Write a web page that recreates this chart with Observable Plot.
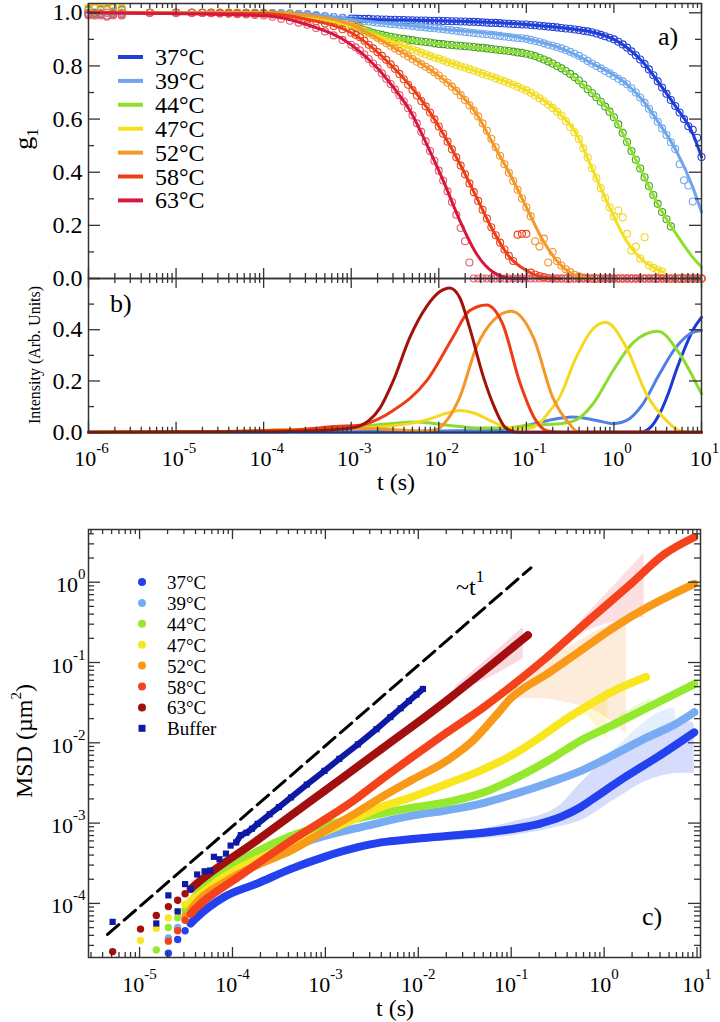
<!DOCTYPE html>
<html><head><meta charset="utf-8">
<script src="https://cdn.jsdelivr.net/npm/d3@7"></script>
<script src="https://cdn.jsdelivr.net/npm/@observablehq/plot@0.6"></script>
<style>
html,body{margin:0;padding:0;background:#fff;}
#wrap{position:relative;width:720px;height:1022px;overflow:hidden;background:#fff;}
#wrap svg{position:absolute;left:0;}
</style></head><body><div id="wrap"></div>
<script>
// ================= DATA =================
const temps = ["37°C","39°C","44°C","47°C","52°C","58°C","63°C"];

// ---- panel a: g1 vs lag time (log10 t) ----
const lagLog = [-6,-5.93,-5.86,-5.79,-5.72,-5.62,-5.3,-5,-4.82,-4.7,-4.6,-4.5,-4.4,-4.3,-4.2,-4.1,-4,-3.9,-3.8,-3.7,-3.6,-3.5,-3.4,-3.3,-3.2,-3.1,
 -3,-2.95,-2.9,-2.85,-2.8,-2.75,-2.7,-2.65,-2.6,-2.55,-2.5,-2.45,-2.4,-2.35,-2.3,-2.25,-2.2,-2.15,-2.1,-2.05,-2,
 -1.95,-1.9,-1.85,-1.8,-1.75,-1.7,-1.65,-1.6,-1.55,-1.5,-1.45,-1.4,-1.35,-1.3,-1.25,-1.2,-1.15,-1.1,-1.05,-1,
 -0.95,-0.9,-0.85,-0.8,-0.75,-0.7,-0.65,-0.6,-0.55,-0.5,-0.45,-0.4,-0.35,-0.3,-0.25,-0.2,-0.15,-0.1,-0.05,0,
 0.05,0.1,0.15,0.2,0.25,0.3,0.35,0.4,0.45,0.5,0.55,0.6,0.65,0.7,0.75,0.8,0.85,0.9,0.95,1];

const g1_37 = [1,1,1,1,1,1, 1,1,1,1,1,1,1,1,1,1,1, 0.999,0.998,0.997,0.995,0.993,0.99,0.987,0.984,0.981,
 0.978,0.978,0.977,0.977,0.977,0.976,0.976,0.975,0.975,0.974,0.974,0.973,0.973,0.972,0.972,0.971,0.971,0.971,0.97,0.97,0.97,
 0.969,0.969,0.968,0.968,0.967,0.967,0.966,0.966,0.965,0.964,0.963,0.962,0.962,0.961,0.96,0.959,0.958,0.957,0.956,0.956,
 0.954,0.953,0.951,0.95,0.948,0.947,0.945,0.943,0.941,0.94,0.937,0.935,0.932,0.93,0.927,0.922,0.917,0.912,0.906,0.9,
 0.891,0.881,0.869,0.855,0.84,0.824,0.807,0.787,0.765,0.742,0.719,0.695,0.672,0.649,0.625,0.6,0.573,0.56,0.53,0.457];
const g1_39 = [1,1,1,1,1,1, 1,1,1,1,1,1,1,1,1,1,1, 0.999,0.998,0.997,0.996,0.995,0.992,0.988,0.984,0.98,
 0.975,0.972,0.97,0.968,0.967,0.965,0.963,0.962,0.96,0.958,0.957,0.955,0.953,0.952,0.95,0.948,0.947,0.945,0.943,0.942,0.94,
 0.938,0.936,0.934,0.932,0.93,0.928,0.926,0.924,0.922,0.921,0.919,0.917,0.915,0.913,0.911,0.909,0.907,0.905,0.904,0.902,
 0.898,0.894,0.89,0.885,0.88,0.876,0.871,0.866,0.86,0.853,0.846,0.838,0.829,0.819,0.809,0.8,0.791,0.781,0.772,0.762,
 0.752,0.742,0.731,0.716,0.7,0.681,0.661,0.639,0.615,0.59,0.565,0.54,0.513,0.487,0.43,0.37,0.35,0.29,0,0];
const g1_44 = [1.01,1,1.01,1.015,1.005,1.01, 1,1,1,1,1,1,1,0.999,0.999,0.998,0.998, 0.997,0.995,0.993,0.99,0.987,0.982,0.976,0.969,0.962,
 0.953,0.946,0.94,0.935,0.93,0.925,0.921,0.917,0.913,0.91,0.907,0.904,0.902,0.899,0.897,0.894,0.892,0.89,0.888,0.885,0.883,
 0.882,0.88,0.879,0.877,0.876,0.874,0.873,0.871,0.869,0.868,0.866,0.864,0.862,0.86,0.858,0.856,0.854,0.851,0.849,0.846,
 0.842,0.837,0.831,0.824,0.817,0.809,0.8,0.791,0.781,0.77,0.758,0.745,0.73,0.712,0.698,0.682,0.665,0.647,0.628,0.607,
 0.58,0.548,0.514,0.48,0.447,0.414,0.381,0.348,0.314,0.281,0.25,0.223,0.196,0,0,0,0,0,0,0];
const g1_47 = [1.02,1.015,1.02,1.02,1.015,1.02, 1,1,1,1,1,1,1,0.999,0.999,0.999,0.998, 0.997,0.995,0.993,0.99,0.987,0.982,0.975,0.967,0.959,
 0.95,0.943,0.935,0.928,0.922,0.916,0.91,0.904,0.898,0.893,0.888,0.881,0.875,0.868,0.862,0.856,0.85,0.844,0.838,0.832,0.827,
 0.821,0.815,0.81,0.804,0.799,0.794,0.788,0.783,0.777,0.771,0.765,0.76,0.754,0.748,0.742,0.736,0.729,0.722,0.715,0.708,
 0.699,0.689,0.678,0.667,0.655,0.642,0.628,0.613,0.593,0.57,0.55,0.525,0.49,0.455,0.415,0.378,0.34,0.303,0.268,0.233,
 0.256,0.23,0.168,0.105,0.12,0.075,0.155,0.05,0.04,0.032,0.026,0,0,0,0,0,0,0,0,0];
const g1_52 = [1.015,1.02,1.015,1.01,1.02,1.015, 1,1,1,1,1,1,1,0.999,0.999,0.998,0.998, 0.997,0.996,0.994,0.992,0.99,0.985,0.978,0.972,0.964,
 0.955,0.951,0.946,0.936,0.926,0.916,0.906,0.896,0.886,0.876,0.866,0.856,0.846,0.836,0.826,0.816,0.806,0.797,0.787,0.776,0.764,
 0.751,0.737,0.722,0.706,0.69,0.672,0.652,0.632,0.61,0.584,0.556,0.526,0.494,0.462,0.43,0.398,0.367,0.334,0.301,0.268,
 0.234,0.14,0.12,0.15,0.06,0.1,0.066,0.049,0.035,0.024,0.014,0.008,0.004,0.001,0,0,0,0,0,0,
 0,0,0,0,0,0,0,0,0,0,0,0,0,0,0,0,0,0,0,0];
const g1_58 = [0.995,0.99,0.995,0.99,0.995,0.99, 1,1,1,1,1,0.999,0.999,0.998,0.998,0.997,0.997, 0.994,0.99,0.986,0.981,0.975,0.968,0.96,0.95,0.938,
 0.925,0.917,0.908,0.895,0.88,0.866,0.852,0.838,0.823,0.806,0.789,0.77,0.75,0.729,0.709,0.689,0.668,0.648,0.625,0.599,0.572,
 0.545,0.515,0.486,0.456,0.425,0.392,0.358,0.325,0.292,0.259,0.226,0.193,0.163,0.135,0.109,0.085,0.066,0.165,0.168,0.168,
 0.022,0.015,0.009,0.005,0.002,0,0,0,0,0,0,0,0,0,0,0,0,0,0,0,
 0,0,0,0,0,0,0,0,0,0,0,0,0,0,0,0,0,0,0,0];
const g1_63 = [0.99,0.995,0.99,0.985,0.99,0.995, 1,1,1,0.999,0.998,0.997,0.996,0.995,0.994,0.992,0.99, 0.985,0.978,0.97,0.963,0.955,0.943,0.93,0.915,0.898,
 0.88,0.87,0.858,0.843,0.826,0.809,0.792,0.772,0.752,0.732,0.711,0.69,0.666,0.641,0.614,0.584,0.552,0.516,0.48,0.443,0.406,
 0.369,0.328,0.288,0.24,0.19,0.14,0.06,0,0,0,0,0,0,0,0,0,0,0,0,0,
 0,0,0,0,0,0,0,0,0,0,0,0,0,0,0,0,0,0,0,0,
 0,0,0,0,0,0,0,0,0,0,0,0,0,0,0,0,0,0,0,0];

// fitted curves (log10 t, g1)
const fit37 = [[-6,1],[-4,1],[-3.5,0.993],[-3,0.978],[-2,0.97],[-1,0.956],[-0.5,0.94],[-0.24,0.927],[0,0.9],[0.14,0.871],[0.33,0.815],[0.52,0.733],[0.71,0.645],[0.9,0.545],[1,0.457]];
const fit39 = [[-6,1],[-4,1],[-3.5,0.995],[-3,0.975],[-2,0.94],[-1,0.902],[-0.62,0.868],[-0.24,0.808],[0.14,0.733],[0.33,0.67],[0.52,0.582],[0.71,0.482],[0.9,0.344],[1,0.25]];
const fit44 = [[-6,1],[-4,1],[-3.5,0.987],[-3,0.953],[-2.52,0.908],[-2,0.883],[-1.38,0.861],[-1,0.846],[-0.62,0.795],[-0.24,0.695],[0,0.607],[0.14,0.52],[0.33,0.394],[0.52,0.268],[0.71,0.168],[0.9,0.08],[1,0.043]];
const fit47 = [[-6,1],[-4,0.998],[-3.5,0.987],[-3,0.95],[-2.52,0.89],[-2,0.827],[-1.38,0.758],[-1,0.708],[-0.62,0.62],[-0.43,0.545],[-0.24,0.407],[-0.05,0.268],[0.14,0.143],[0.33,0.068],[0.56,0.025]];
const fit52 = [[-6,1],[-4,0.998],[-3.5,0.99],[-3,0.955],[-2.52,0.87],[-2.14,0.795],[-1.76,0.695],[-1.57,0.62],[-1.38,0.507],[-1.19,0.394],[-1,0.268],[-0.81,0.143],[-0.62,0.055],[-0.43,0.011],[-0.2,0]];
const fit58 = [[-6,1],[-4,0.997],[-3.5,0.975],[-3,0.925],[-2.52,0.795],[-2.14,0.645],[-1.95,0.545],[-1.76,0.432],[-1.57,0.306],[-1.38,0.18],[-1.19,0.08],[-1,0.03],[-0.81,0.005],[-0.6,0]];
const fit63 = [[-6,1],[-4,0.99],[-3.5,0.955],[-3,0.88],[-2.71,0.795],[-2.52,0.72],[-2.33,0.632],[-2.14,0.507],[-1.95,0.369],[-1.76,0.218],[-1.57,0.093],[-1.38,0.024],[-1.15,0],[-1,0]];

// ---- panel b: intensity distributions (log10 t, intensity) ----
const int37 = [[-6,0],[-1,0],[0,0],[0.3,0],[0.42,0.02],[0.52,0.071],[0.62,0.15],[0.71,0.24],[0.8,0.32],[0.9,0.397],[1,0.448]];
const int39 = [[-6,0],[-3,0.002],[-2,0.005],[-1.5,0.006],[-1.2,0.012],[-1,0.026],[-0.75,0.046],[-0.47,0.059],[-0.2,0.046],[0,0.033],[0.14,0.045],[0.33,0.11],[0.52,0.227],[0.71,0.332],[0.9,0.39],[1,0.397]];
const int44 = [[-6,0],[-4.5,0.002],[-4,0.006],[-3.5,0.012],[-3,0.02],[-2.6,0.032],[-2.25,0.04],[-1.9,0.027],[-1.5,0.016],[-1.2,0.018],[-1,0.026],[-0.62,0.033],[-0.43,0.048],[-0.24,0.11],[-0.01,0.24],[0.22,0.35],[0.5,0.394],[0.75,0.306],[1,0.15]];
const int47 = [[-6,0],[-4.5,0.003],[-4,0.008],[-3.5,0.012],[-3,0.015],[-2.6,0.022],[-2.14,0.048],[-1.9,0.075],[-1.76,0.085],[-1.6,0.075],[-1.38,0.04],[-1.2,0.018],[-1,0.013],[-0.85,0.035],[-0.75,0.075],[-0.62,0.137],[-0.43,0.293],[-0.24,0.403],[-0.095,0.429],[0.14,0.332],[0.37,0.15],[0.6,0.045],[0.75,0.006],[0.9,0],[1,0]];
const int52 = [[-6,0],[-4.5,0.002],[-4,0.005],[-3.5,0.01],[-3,0.015],[-2.5,0.01],[-2.2,0.004],[-2.03,0.01],[-1.9,0.05],[-1.76,0.137],[-1.57,0.332],[-1.38,0.435],[-1.17,0.472],[-0.92,0.37],[-0.7,0.137],[-0.51,0.033],[-0.4,0],[1,0]];
const int58 = [[-6,0],[-4.5,0.002],[-4,0.006],[-3.5,0.012],[-3.2,0.022],[-2.9,0.027],[-2.7,0.05],[-2.52,0.085],[-2.14,0.2],[-1.84,0.37],[-1.65,0.474],[-1.456,0.497],[-1.27,0.422],[-1.08,0.2],[-0.89,0.045],[-0.77,0.006],[-0.6,0],[1,0]];
const int63 = [[-6,0],[-4,0.002],[-3.5,0.005],[-3.2,0.01],[-3,0.016],[-2.9,0.025],[-2.8,0.045],[-2.67,0.095],[-2.52,0.2],[-2.33,0.37],[-2.14,0.49],[-1.99,0.548],[-1.875,0.563],[-1.76,0.525],[-1.65,0.41],[-1.49,0.215],[-1.38,0.11],[-1.23,0.015],[-1.1,0],[1,0]];

// ---- panel c: MSD (log10 t, log10 MSD) ----
const msd37 = [[-4.69,-4.62],[-4.59,-4.45],[-4.51,-4.34],[-4.45,-4.25],[-4.38,-4.17],[-4.09,-3.92],[-3.73,-3.75],[-3.37,-3.57],[-3.01,-3.42],[-2.65,-3.3],[-2.4,-3.24],[-2.08,-3.2],[-1.69,-3.16],[-1.3,-3.12],[-0.97,-3.07],[-0.7,-3.01],[-0.46,-2.92],[-0.25,-2.8],[-0.11,-2.69],[0.25,-2.41],[0.61,-2.15],[0.97,-1.87]];
const msd39 = [[-4.69,-4.43],[-4.59,-4.3],[-4.51,-4.18],[-4.45,-4.12],[-4.41,-4.06],[-4.09,-3.71],[-3.73,-3.45],[-3.37,-3.3],[-3.01,-3.16],[-2.65,-3.06],[-2.4,-2.99],[-2.08,-2.91],[-1.69,-2.84],[-1.3,-2.75],[-0.97,-2.64],[-0.6,-2.5],[-0.25,-2.35],[0.1,-2.15],[0.47,-1.93],[0.75,-1.78],[0.97,-1.62]];
const msd44 = [[-4.82,-4.58],[-4.69,-4.3],[-4.59,-4.18],[-4.51,-4.08],[-4.45,-4],[-4.41,-3.93],[-4.09,-3.6],[-3.73,-3.35],[-3.37,-3.16],[-3.01,-3.03],[-2.65,-2.94],[-2.4,-2.88],[-2.08,-2.81],[-1.69,-2.74],[-1.3,-2.62],[-0.97,-2.45],[-0.6,-2.22],[-0.25,-1.97],[0.11,-1.77],[0.47,-1.56],[0.97,-1.27]];
const msd47 = [[-4.99,-4.46],[-4.82,-4.31],[-4.69,-4.18],[-4.59,-4.1],[-4.51,-4.01],[-4.45,-3.97],[-4.41,-3.94],[-4.09,-3.67],[-3.73,-3.45],[-3.37,-3.28],[-3.01,-3.11],[-2.65,-2.93],[-2.4,-2.8],[-2.08,-2.68],[-1.69,-2.51],[-1.3,-2.33],[-0.97,-2.14],[-0.7,-1.94],[-0.43,-1.72],[-0.15,-1.52],[0.11,-1.35],[0.45,-1.18]];
const msd52 = [[-4.51,-4.15],[-4.45,-4.08],[-4.41,-4.02],[-4.09,-3.74],[-3.73,-3.52],[-3.37,-3.34],[-3.01,-3.1],[-2.65,-2.86],[-2.4,-2.68],[-2.08,-2.47],[-1.69,-2.22],[-1.4,-1.96],[-1.15,-1.64],[-1,-1.44],[-0.9,-1.35],[-0.61,-1.14],[-0.25,-0.85],[0.11,-0.56],[0.47,-0.31],[0.97,-0.02]];
const msd58 = [[-4.69,-4.47],[-4.59,-4.34],[-4.51,-4.21],[-4.45,-4.13],[-4.41,-4.08],[-3.91,-3.65],[-3.37,-3.22],[-2.65,-2.68],[-2.4,-2.46],[-2.08,-2.19],[-1.69,-1.87],[-1.3,-1.56],[-0.97,-1.27],[-0.6,-0.92],[-0.25,-0.56],[0.29,-0.02],[0.65,0.35],[0.97,0.56]];
const msd63 = [[-5.29,-4.6],[-4.99,-4.32],[-4.82,-4.15],[-4.69,-4.04],[-4.59,-3.96],[-4.51,-3.88],[-4.45,-3.82],[-4.38,-3.75],[-3.73,-3.21],[-3.01,-2.6],[-2.4,-2.08],[-2.08,-1.81],[-1.69,-1.47],[-1.33,-1.14],[-0.97,-0.8],[-0.82,-0.66]];
const msdBuffer = [[-5.29,-4.23],[-4.82,-4.25],[-4.69,-3.9],[-4.59,-4.1],[-4.51,-3.76],[-4.45,-3.82],[-4.38,-3.64],[-4.3,-3.6],[-4.24,-3.59],[-4.2,-3.42],[-4.14,-3.45],[-4.07,-3.38],[-4.02,-3.28],[-3.96,-3.24],[-3.91,-3.15],[-3.85,-3.12],[-3.79,-3.07],[-3.73,-3.01],[-3.6,-2.89],[-3.5,-2.8],[-3.37,-2.68],[-3.2,-2.52],[-3.01,-2.35],[-2.85,-2.2],[-2.65,-2.02],[-2.45,-1.83],[-2.3,-1.68],[-2.19,-1.57],[-2.1,-1.48],[-2.02,-1.4],[-1.95,-1.33]];
// error bands (log10 t, low log10 MSD, high log10 MSD)
const band37 = [[-2.2,-3.24,-3.17],[-1.5,-3.21,-3.11],[-1,-3.16,-2.99],[-0.5,-3.05,-2.8],[-0.25,-2.97,-2.5],[0.1,-2.72,-2.12],[0.47,-2.47,-1.89],[0.83,-2.38,-1.72],[0.97,-2.38,-1.76]];
const band39 = [[0,-2.3,-2.22],[0.3,-2.05,-1.88],[0.6,-1.86,-1.62],[0.77,-1.8,-1.56]];
const band44 = [[0,-1.86,-1.8],[0.25,-1.72,-1.6],[0.5,-1.56,-1.45]];
const band47 = [[-0.4,-1.72,-1.68],[-0.2,-1.66,-1.52],[0,-1.92,-1.36],[0.04,-1.95,-1.31]];
const band52 = [[-0.97,-1.45,-1.25],[-0.7,-1.45,-1.02],[-0.4,-1.5,-0.82],[-0.1,-1.6,-0.62],[0.24,-1.89,-0.44]];
const band58 = [[-0.5,-0.85,-0.8],[-0.2,-0.62,-0.42],[0.1,-0.5,-0.05],[0.43,-0.44,0.36]];
const band63 = [[-1.6,-1.38,-1.3],[-1.25,-1.2,-0.95],[-0.87,-0.95,-0.56]];
// ~t^1 guide (log10 t, log10 MSD)
const guideT = [-5.345,-0.788];
const guideM = [-4.387,0.179];

// ---- ticks ----
const mult = [2,3,4,5,6,7,8,9];
const decAB = [1e-6,1e-5,1e-4,1e-3,1e-2,1e-1,1,10];
const yMajA = [0,0.2,0.4,0.6,0.8,1.0], yMinA = [0.1,0.3,0.5,0.7,0.9];
const yMajB = [0,0.2,0.4,0.6], yMinB = [0.1,0.3,0.5], yLabB = [0,0.2,0.4];
const decCx = [1e-5,1e-4,1e-3,1e-2,1e-1,1,10];
const decCy = [1e-4,1e-3,1e-2,1e-1,1];
const preCx = [3e-6,4e-6,5e-6,6e-6,7e-6,8e-6,9e-6];
const preCy = [3e-5,4e-5,5e-5,6e-5,7e-5,8e-5,9e-5];
const postCy = [2,3,4];

// ---- colours ----
const lineA = ["#1f3fd8","#6fa6ec","#8ee02c","#f4e01c","#f5982a","#ee3e18","#d6173e"];
const circA = ["#2542d6","#74a8ee","#45a126","#f0d824","#f0962e","#e8461e","#e85870"];
const colB  = ["#1e3ad6","#4f80e4","#8cdc30","#f7d820","#f5962a","#ee3d16","#a3120a"];
const colC  = ["#2441f0","#78acf2","#94e82e","#f8e61e","#f89a18","#f4421c","#a30e0e"];
const bandCol = ["#3050f0","#78acf2","#94e82e","#f2d820","#f5a040","#f46070","#e04060"];
const colBuffer = "#0c1aa6";

// ================= BUILD =================
const FONT = "'Liberation Serif','Times New Roman',Times,serif";
const wrap = document.getElementById("wrap");
const P = v => Math.pow(10, v);
const ts = {stroke:"#333", strokeWidth:1.3};
function boxTicks(fw, fh, xMaj, xMin, yMaj, yMin) {
  return [
    Plot.tickX(xMaj, {x: d => d, insetTop: fh - 10, ...ts}),
    Plot.tickX(xMaj, {x: d => d, insetBottom: fh - 10, ...ts}),
    Plot.tickX(xMin, {x: d => d, insetTop: fh - 5, ...ts}),
    Plot.tickX(xMin, {x: d => d, insetBottom: fh - 5, ...ts}),
    Plot.tickY(yMaj, {y: d => d, insetRight: fw - 12, ...ts}),
    Plot.tickY(yMaj, {y: d => d, insetLeft: fw - 12, ...ts}),
    Plot.tickY(yMin, {y: d => d, insetRight: fw - 6, ...ts}),
    Plot.tickY(yMin, {y: d => d, insetLeft: fw - 6, ...ts})
  ];
}
const fmtPow = d => "10^" + Math.round(Math.log10(d));
function supify(svg, size, rise) {
  svg.querySelectorAll("text").forEach(t => {
    const m = /^10\^(-?\d+)$/.exec(t.textContent.trim());
    if (!m) return;
    t.textContent = "10";
    const s = document.createElementNS("http://www.w3.org/2000/svg", "tspan");
    s.setAttribute("dy", -rise);
    s.setAttribute("font-size", size);
    s.textContent = m[1];
    t.appendChild(s);
  });
}
const styleBase = {background: "transparent", fontFamily: FONT, color: "#000", overflow: "visible"};

const xMinAB = decAB.slice(0, -1).flatMap(d => mult.map(m => m * d));

// ---------- panel a ----------
const gA = [g1_37, g1_39, g1_44, g1_47, g1_52, g1_58, g1_63];
const fitsA = [fit37, fit39, fit44, fit47, fit52, fit58, fit63];
const circMarks = gA.map((arr, i) => Plot.dot(
  lagLog.map((lt, j) => ({t: P(lt), g: arr[j]})).filter(d => d.g != null),
  {x: "t", y: "g", r: 3.5, stroke: circA[i], strokeWidth: 1.1, fill: "none"}));
const fitMarks = fitsA.map((arr, i) => Plot.line(
  arr.map(([lt, g]) => ({t: P(lt), g})),
  {x: "t", y: "g", stroke: lineA[i], strokeWidth: 3, curve: "monotone-x"}));
const plotA = Plot.plot({
  width: 720, height: 282, marginLeft: 88, marginRight: 19, marginTop: 3, marginBottom: 4,
  style: styleBase,
  x: {type: "log", domain: [1e-6, 10], axis: null},
  y: {domain: [0, 1.035], axis: null},
  marks: [
    ...circMarks, ...fitMarks,
    Plot.frame({stroke: "#333", strokeWidth: 1.5}),
    ...boxTicks(613, 275, decAB, xMinAB, yMajA, yMinA),
    Plot.axisY(yMajA, {anchor: "left", tickSize: 0, tickPadding: 6, tickFormat: d3.format(".1f"), fontSize: 24, label: null})
  ]
});
plotA.style.top = "0px";
wrap.appendChild(plotA);

// ---------- panel b ----------
const intB = [int37, int39, int44, int47, int52, int58, int63];
const plotB = Plot.plot({
  width: 720, height: 230, marginLeft: 88, marginRight: 19, marginTop: 8, marginBottom: 68.3,
  style: styleBase,
  x: {type: "log", domain: [1e-6, 10], axis: null},
  y: {domain: [0, 0.6], axis: null},
  marks: [
    ...intB.map((arr, i) => Plot.line(arr.map(([lt, v]) => ({t: P(lt), v})),
      {x: "t", y: "v", stroke: colB[i], strokeWidth: 3, curve: "monotone-x"})),
    Plot.frame({stroke: "#333", strokeWidth: 1.5}),
    ...boxTicks(613, 153.7, decAB, xMinAB, yMajB, yMinB),
    Plot.axisY(yLabB, {anchor: "left", tickSize: 0, tickPadding: 6, tickFormat: d3.format(".1f"), fontSize: 24, label: null}),
    Plot.axisX(decAB, {anchor: "bottom", tickSize: 0, tickPadding: 18, tickFormat: fmtPow, fontSize: 22, dx: 3, label: null})
  ]
});
plotB.style.top = "270px";
supify(plotB, 15, 13);
wrap.appendChild(plotB);

// ---------- panel c ----------
const msdC = [msd37, msd39, msd44, msd47, msd52, msd58, msd63];
const bandC = [band37, band39, band44, band47, band52, band58, band63];
const xMinC = preCx.concat(decCx.slice(0, -1).flatMap(d => mult.map(m => m * d)));
const yMinC = preCy.concat(decCy.slice(0, -1).flatMap(d => mult.map(m => m * d)), postCy);
const toPts = arr => arr.map(([lt, lm]) => ({t: P(lt), m: P(lm)}));
const plotC = Plot.plot({
  width: 720, height: 502, marginLeft: 88, marginRight: 20, marginTop: 9, marginBottom: 65,
  style: styleBase,
  x: {type: "log", domain: [2.82e-6, 10.9], axis: null},
  y: {type: "log", domain: [2.12e-5, 4.53], axis: null},
  marks: [
    ...bandC.map((arr, i) => Plot.areaY(arr.map(([lt, lo, hi]) => ({t: P(lt), lo: P(lo), hi: P(hi)})),
      {x: "t", y1: "lo", y2: "hi", fill: bandCol[i], fillOpacity: 0.2, curve: "monotone-x"})),
    Plot.line(guideT.map((lt, i) => ({t: P(lt), m: P(guideM[i])})),
      {x: "t", y: "m", stroke: "#000", strokeWidth: 3, strokeDasharray: "15,7"}),
    ...msdC.flatMap((arr, i) => [
      Plot.dot(toPts(arr), {x: "t", y: "m", r: 3.7, fill: colC[i]}),
      Plot.line(toPts(arr).filter(d => d.t >= 3.4e-5), {x: "t", y: "m", stroke: colC[i], strokeWidth: 8, strokeLinecap: "round", curve: "monotone-x"})
    ]),
    Plot.line(toPts(msdBuffer).filter(d => d.t >= 1.05e-4), {x: "t", y: "m", stroke: colBuffer, strokeWidth: 6, curve: "linear"}),
    Plot.dot(toPts(msdBuffer), {x: "t", y: "m", symbol: "square", r: 3.5, fill: colBuffer}),
    Plot.frame({stroke: "#333", strokeWidth: 1.5}),
    ...boxTicks(612, 428, decCx, xMinC, decCy, yMinC),
    Plot.axisY(decCy, {anchor: "left", tickSize: 0, tickPadding: 3, tickFormat: fmtPow, fontSize: 22, dy: 3, label: null}),
    Plot.axisX(decCx, {anchor: "bottom", tickSize: 0, tickPadding: 19, tickFormat: fmtPow, fontSize: 22, label: null})
  ]
});
plotC.style.top = "520px";
supify(plotC, 15, 13);
wrap.appendChild(plotC);

// ---------- overlay text: legends, labels ----------
const ov = d3.create("svg").attr("width", 720).attr("height", 1022)
  .style("top", "0px").style("font-family", FONT).style("pointer-events", "none");
function txt(x, y, s, size, anchor = "start", rot = 0) {
  const t = ov.append("text").attr("font-size", size).attr("text-anchor", anchor).attr("fill", "#000")
    .attr("transform", `translate(${x},${y})` + (rot ? ` rotate(${rot})` : ""));
  t.text(s);
  return t;
}
// legend a
temps.forEach((s, i) => {
  const y = 57 + i * 23.9;
  ov.append("line").attr("x1", 118).attr("x2", 143).attr("y1", y).attr("y2", y)
    .attr("stroke", lineA[i]).attr("stroke-width", 4);
  txt(155, y + 8, s, 24);
});
// legend c
temps.concat(["Buffer"]).forEach((s, i) => {
  const y = 582 + i * 20.9;
  if (i < 7) ov.append("circle").attr("cx", 142).attr("cy", y).attr("r", 4).attr("fill", colC[i]);
  else ov.append("rect").attr("x", 138.5).attr("y", y - 3.5).attr("width", 7).attr("height", 7).attr("fill", colBuffer);
  txt(167, y + 7, s, 19);
});
txt(658, 45, "a)", 26);
txt(110, 312, "b)", 26);
txt(642, 925, "c)", 26);
// axis titles
const g1 = txt(32, 139, "g", 26, "middle", -90);
g1.append("tspan").attr("font-size", 17).attr("dy", 6).text("1");
txt(40, 355, "Intensity (Arb. Units)", 16, "middle", -90);
txt(396, 490, "t (s)", 24, "middle");
txt(395, 1016, "t (s)", 24, "middle");
const msdT = txt(32, 741, "MSD (µm", 24, "middle", -90);
msdT.append("tspan").attr("font-size", 15).attr("dy", -11).text("2");
msdT.append("tspan").attr("dy", 11).text(")");
const tl = txt(456, 595, "~t", 24, "start");
tl.append("tspan").attr("font-size", 17).attr("dy", -13).text("1");
wrap.appendChild(ov.node());
</script></body></html>
